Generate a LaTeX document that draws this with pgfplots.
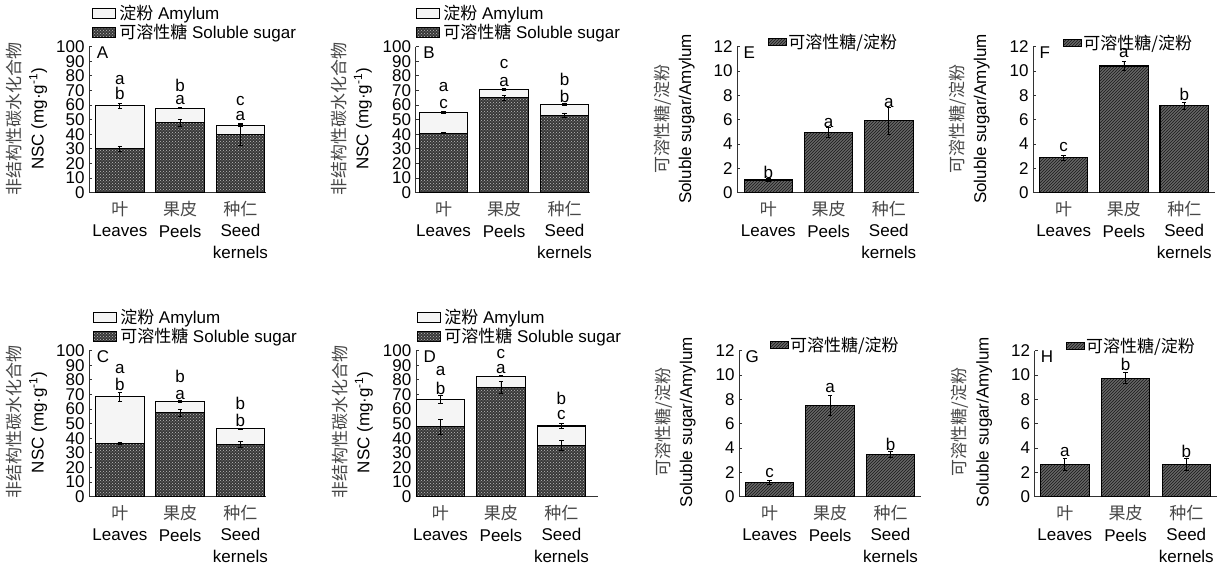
\documentclass[border=0pt]{standalone}
\usepackage{pgfplots}
\pgfplotsset{compat=1.18}
\usetikzlibrary{patterns}
\usepackage{fontspec}
\setmainfont{Liberation Sans}
\newfontfamily\cjk{Noto Sans CJK SC}
\newcommand\fs{\fontsize{17}{21.5}\selectfont}
\newcommand\ft{\fontsize{17}{19}\selectfont}
\newcommand\gcjk[1]{{\cjk\color{black!72}#1}}
\tikzset{lt/.style={font=\fs, inner sep=0pt}}
\pgfplotsset{
  base/.style={
    scale only axis, height=146pt, ymin=0, clip=false,
    axis x line*=bottom, axis y line*=left,
    axis line style={-, black!80, line width=0.8pt},
    xtick={0,1,2},
    xticklabels={{\gcjk{叶}\\Leaves},{\gcjk{果皮}\\Peels},{\gcjk{种仁}\\Seed\\kernels}},
    x tick style={draw=none},
    y tick style={black!80, line width=0.8pt},
    tick align=inside, major tick length=3pt, ytick pos=left,
    tick label style={font=\ft},
    yticklabel style={inner xsep=4.5pt},
    xticklabel style={align=center, font=\fs, yshift=-5pt},
    /pgf/number format/assume math mode=true,
    ylabel style={align=center, font=\fontsize{17}{23}\selectfont, anchor=center},
    legend cell align=left,
  },
  nsc/.style={base, ymax=100, ytick={0,10,...,100},
    ylabel={\gcjk{非结构性碳水化合物}\\NSC (mg·g\textsuperscript{-1})},
    legend image code/.code={\draw[##1, line width=0.9pt] (0pt,-5pt) rectangle (23pt,5pt);},
    legend style={draw=none, fill=none, font=\fs, anchor=north west, inner sep=0pt,
      row sep=0.5pt, nodes={inner sep=1.5pt}},
  },
  rat/.style={base, ymax=12, ytick={0,2,...,12},
    ylabel={\gcjk{可溶性糖/淀粉}\\Soluble sugar/Amylum},
    legend image code/.code={\draw[##1, line width=0.9pt] (0pt,-3.4pt) rectangle (18pt,3.4pt);},
    legend style={draw=none, fill=none, font=\fs, anchor=west, inner sep=0pt,
      nodes={inner sep=1pt}},
  },
  amy/.style={ybar, bar width=48.5pt, bar shift=0pt, draw=black, line width=1.1pt, fill=black!4},
  sug/.style={ybar, bar width=48.5pt, bar shift=0pt, draw=black, line width=1.1pt, fill=black!78,
    postaction={pattern=crosshatch dots, pattern color=black!25}},
  rbar/.style={ybar, bar width=48.5pt, bar shift=0pt, draw=black, line width=1.1pt, fill=black!60,
    postaction={pattern=north east lines, pattern color=black!90}},
  eb/.style={error bars/.cd, y dir=both, y explicit,
    error bar style={line width=0.8pt, black},
    error mark options={rotate=90, mark size=2.2pt, line width=0.8pt, black}},
}
\begin{document}
\begin{tikzpicture}
\useasboundingbox (0,0) rectangle (1227pt,569pt);
% ---------- A ----------
\begin{axis}[nsc, at={(89.3pt,376.3pt)}, anchor=south west, width=176.4pt,
  xmin=-0.507, xmax=2.42,
  ylabel style={at={(axis description cs:-0.355,0.505)}},
  legend style={at={(axis description cs:0.0136,1.297)}}]
\addplot[amy, eb] coordinates {(0,59.5) +- (0,1.5) (1,57.9) +- (0,0.5) (2,46) +- (0,0.5)};
\addlegendentry{\hspace{2pt}{\cjk 淀粉} Amylum}
\addplot[sug, eb] coordinates {(0,30) +- (0,2) (1,48) +- (0,2.3) (2,39.9) +- (0,7.3)};
\addlegendentry{\hspace{2pt}{\cjk 可溶性糖} Soluble sugar}
\node[lt] at (axis cs:0,77.2) {a};
\node[lt] at (axis cs:0,67.7) {b};
\node[lt] at (axis cs:1,73.4) {b};
\node[lt] at (axis cs:1,63.4) {a};
\node[lt] at (axis cs:2,62.5) {c};
\node[lt] at (axis cs:2,52.6) {a};
\node[lt, anchor=north west, xshift=7.5pt] at (axis description cs:0,1) {A};
\end{axis}
% ---------- B ----------
\begin{axis}[nsc, at={(415.7pt,376.3pt)}, anchor=south west, width=174.3pt,
  xmin=-0.46, xmax=2.42,
  ylabel style={at={(axis description cs:-0.369,0.505)}},
  legend style={at={(axis description cs:0,1.297)}}]
\addplot[amy, eb] coordinates {(0,54.9) +- (0,0.5) (1,70.8) +- (0,0.5) (2,60.4) +- (0,0.5)};
\addlegendentry{\hspace{2pt}{\cjk 淀粉} Amylum}
\addplot[sug, eb] coordinates {(0,40.8) +- (0,0.5) (1,64.9) +- (0,2) (2,53.1) +- (0,1.5)};
\addlegendentry{\hspace{2pt}{\cjk 可溶性糖} Soluble sugar}
\node[lt] at (axis cs:0,72.2) {a};
\node[lt] at (axis cs:0,60.4) {c};
\node[lt] at (axis cs:1,88.2) {c};
\node[lt] at (axis cs:1,75.9) {a};
\node[lt] at (axis cs:2,77.7) {b};
\node[lt] at (axis cs:2,65.8) {b};
\node[lt, anchor=north west, xshift=7.5pt] at (axis description cs:0,1) {B};
\end{axis}
% ---------- C ----------
\begin{axis}[nsc, at={(89.3pt,72.3pt)}, anchor=south west, width=176.4pt,
  xmin=-0.507, xmax=2.42,
  ylabel style={at={(axis description cs:-0.355,0.51)}},
  legend style={at={(axis description cs:0.019,1.297)}}]
\addplot[amy, eb] coordinates {(0,68.5) +- (0,3) (1,65.3) +- (0,0.5) (2,46.6) +- (0,0.5)};
\addlegendentry{\hspace{2pt}{\cjk 淀粉} Amylum}
\addplot[sug, eb] coordinates {(0,36.5) +- (0,0.5) (1,57.5) +- (0,2.5) (2,35.6) +- (0,2)};
\addlegendentry{\hspace{2pt}{\cjk 可溶性糖} Soluble sugar}
\node[lt] at (axis cs:0,87.2) {a};
\node[lt] at (axis cs:0,77.2) {b};
\node[lt] at (axis cs:1,82.6) {b};
\node[lt] at (axis cs:1,69.4) {a};
\node[lt] at (axis cs:2,63.9) {b};
\node[lt] at (axis cs:2,52) {b};
\node[lt, anchor=north west, xshift=7.5pt] at (axis description cs:0,1) {C};
\end{axis}
% ---------- D ----------
\begin{axis}[nsc, at={(416pt,72.3pt)}, anchor=south west, width=181.7pt,
  xmin=-0.405, xmax=2.6,
  ylabel style={at={(axis description cs:-0.349,0.51)}},
  legend style={at={(axis description cs:0.004,1.297)}}]
\addplot[amy, eb] coordinates {(0,66.7) +- (0,2.5) (1,82.6) +- (0,0.5) (2,48.4) +- (0,1.5)};
\addlegendentry{\hspace{2pt}{\cjk 淀粉} Amylum}
\addplot[sug, eb] coordinates {(0,47.9) +- (0,5.3) (1,74.9) +- (0,4) (2,35.2) +- (0,3.2)};
\addlegendentry{\hspace{2pt}{\cjk 可溶性糖} Soluble sugar}
\node[lt] at (axis cs:0,86.3) {a};
\node[lt] at (axis cs:0,74) {b};
\node[lt] at (axis cs:1,97.7) {c};
\node[lt] at (axis cs:1,87.2) {a};
\node[lt] at (axis cs:2,67.1) {b};
\node[lt] at (axis cs:2,55.7) {c};
\node[lt, anchor=north west, xshift=7.5pt] at (axis description cs:0,1) {D};
\end{axis}
% ---------- E ----------
\begin{axis}[rat, at={(737.3pt,376.3pt)}, anchor=south west, width=182pt,
  xmin=-0.515, xmax=2.506,
  ylabel style={at={(axis description cs:-0.347,0.505)}},
  legend style={at={(axis description cs:0.170,1.034)}}]
\addplot[rbar, eb] coordinates {(0,1.04) +- (0,0.1) (1,4.93) +- (0,0.4) (2,5.92) +- (0,1.1)};
\addlegendentry{{\cjk 可溶性糖/淀粉}}
\node[lt] at (axis cs:0,1.67) {b};
\node[lt] at (axis cs:1,5.7) {a};
\node[lt] at (axis cs:2,7.34) {a};
\node[lt, anchor=north west, xshift=6pt] at (axis description cs:0,1) {E};
\end{axis}
% ---------- F ----------
\begin{axis}[rat, at={(1033.3pt,376.3pt)}, anchor=south west, width=181.7pt,
  xmin=-0.504, xmax=2.51,
  ylabel style={at={(axis description cs:-0.353,0.505)}},
  legend style={at={(axis description cs:0.165,1.027)}}]
\addplot[rbar, eb] coordinates {(0,2.88) +- (0,0.2) (1,10.41) +- (0,0.35) (2,7.15) +- (0,0.3)};
\addlegendentry{{\cjk 可溶性糖/淀粉}}
\node[lt] at (axis cs:0,3.73) {c};
\node[lt] at (axis cs:1,11.45) {a};
\node[lt] at (axis cs:2,8.1) {b};
\node[lt, anchor=north west, xshift=6pt] at (axis description cs:0,1) {F};
\end{axis}
% ---------- G ----------
\begin{axis}[rat, at={(739.3pt,72.3pt)}, anchor=south west, width=181.4pt,
  xmin=-0.503, xmax=2.5,
  ylabel style={at={(axis description cs:-0.354,0.51)}},
  legend style={at={(axis description cs:0.169,1.039)}}]
\addplot[rbar, eb] coordinates {(0,1.2) +- (0,0.15) (1,7.53) +- (0,0.82) (2,3.45) +- (0,0.25)};
\addlegendentry{{\cjk 可溶性糖/淀粉}}
\node[lt] at (axis cs:0,1.92) {c};
\node[lt] at (axis cs:1,8.9) {a};
\node[lt] at (axis cs:2,4.33) {b};
\node[lt, anchor=north west, xshift=6pt] at (axis description cs:0,1) {G};
\end{axis}
% ---------- H ----------
\begin{axis}[rat, at={(1034.7pt,72.3pt)}, anchor=south west, width=182pt,
  xmin=-0.496, xmax=2.5,
  ylabel style={at={(axis description cs:-0.346,0.51)}},
  legend style={at={(axis description cs:0.172,1.032)}}]
\addplot[rbar, eb] coordinates {(0,2.63) +- (0,0.5) (1,9.75) +- (0,0.45) (2,2.63) +- (0,0.5)};
\addlegendentry{{\cjk 可溶性糖/淀粉}}
\node[lt] at (axis cs:0,3.7) {a};
\node[lt] at (axis cs:1,10.9) {b};
\node[lt] at (axis cs:2,3.7) {b};
\node[lt, anchor=north west, xshift=6pt] at (axis description cs:0,1) {H};
\end{axis}
\end{tikzpicture}
\end{document}
